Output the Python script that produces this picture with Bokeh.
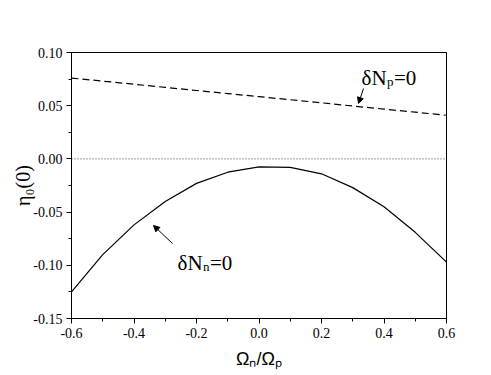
import numpy as np
from bokeh.plotting import figure
from bokeh.models import Label, Arrow, NormalHead, FixedTicker, PrintfTickFormatter, Span
from bokeh.embed import file_html
from bokeh.resources import INLINE

# ---- data ----
omega_ratio = [-0.6, -0.5, -0.4, -0.3, -0.2, -0.1, 0.0, 0.1, 0.2, 0.3, 0.4, 0.5, 0.6]
eta_dNn0 = [-0.125, -0.090, -0.062, -0.040, -0.023, -0.0125, -0.0075, -0.008,
            -0.014, -0.027, -0.045, -0.069, -0.097]
eta_dNp0 = [0.0760, 0.0731, 0.0702, 0.0672, 0.0643, 0.0614, 0.0585, 0.0556,
            0.0527, 0.0497, 0.0468, 0.0439, 0.0410]
x_major = [-0.6, -0.4, -0.2, 0.0, 0.2, 0.4, 0.6]
x_minor = [-0.5, -0.3, -0.1, 0.1, 0.3, 0.5]
y_major = [-0.15, -0.10, -0.05, 0.00, 0.05, 0.10]
y_minor = [-0.125, -0.075, -0.025, 0.025, 0.075]
x_title = "Ωₙ/Ωₚ"
y_title = "η₀(0)"

X0, X1, Y0, Y1 = -0.6, 0.6, -0.15, 0.10
FL, FT, FW, FH = 71, 52, 375, 266  # frame position in picture pixels


def X(px):
    return X0 + (px - FL) / FW * (X1 - X0)


def Y(py):
    return Y1 - (py - FT) / FH * (Y1 - Y0)


p = figure(frame_width=FW, frame_height=FH, x_range=(X0, X1), y_range=(Y0, Y1),
           output_backend="svg", toolbar_location=None,
           min_border_left=FL, min_border_top=FT,
           min_border_right=36, min_border_bottom=52)
p.xgrid.visible = False
p.ygrid.visible = False
p.outline_line_color = "black"
p.outline_line_width = 1
p.background_fill_color = "white"
p.border_fill_color = "white"

for ax, maj, mn, fmt in ((p.xaxis, x_major, x_minor, "%.1f"), (p.yaxis, y_major, y_minor, "%.2f")):
    ax.ticker = FixedTicker(ticks=maj, minor_ticks=mn)
    ax.formatter = PrintfTickFormatter(format=fmt)
    ax.major_label_text_font = "Liberation Serif"
    ax.major_label_text_font_size = "14px"
    ax.major_label_text_color = "black"
    ax.axis_line_color = "black"
    ax.major_tick_line_color = "black"
    ax.minor_tick_line_color = "black"
    ax.major_tick_in = 0
    ax.major_tick_out = 5
    ax.minor_tick_in = 0
    ax.minor_tick_out = 3
    ax.major_label_standoff = 4
    ax.axis_label_text_color = "black"
    ax.axis_label_text_font_style = "normal"

p.xaxis.axis_label = x_title
p.xaxis.axis_label_text_font = "Liberation Sans"
p.xaxis.axis_label_text_font_size = "18px"
p.xaxis.axis_label_standoff = 8
p.yaxis.axis_label = y_title
p.yaxis.axis_label_text_font = "Liberation Serif"
p.yaxis.axis_label_text_font_size = "20px"
p.yaxis.axis_label_standoff = -4

p.add_layout(Span(location=0, dimension="width", line_color="#444444",
                  line_width=1, line_dash="1 2"))
p.line(omega_ratio, eta_dNn0, line_color="black", line_width=1.2)
p.line(omega_ratio, eta_dNp0, line_color="black", line_width=1.2, line_dash="7 4")


def lab(px, py, text, size, font="Liberation Serif"):
    p.add_layout(Label(x=X(px), y=Y(py), text=text, text_font=font,
                       text_font_size=f"{size}px", text_color="black",
                       text_align="left", text_baseline="alphabetic"))


# annotation deltaN_p = 0
lab(361, 77, "δN", 21)
lab(386.5, 81, "p", 13)
lab(393.5, 77, "=0", 21)
# annotation deltaN_n = 0
lab(177, 262, "δN", 21)
lab(202.5, 266, "n", 13)
lab(209.5, 262, "=0", 21)

head = dict(size=6, fill_color="black", line_color="black")
p.add_layout(Arrow(end=NormalHead(**head), x_start=X(363), y_start=Y(88),
                   x_end=X(358), y_end=Y(103), line_color="black", line_width=1))
p.add_layout(Arrow(end=NormalHead(**head), x_start=X(172), y_start=Y(243),
                   x_end=X(153), y_end=Y(225), line_color="black", line_width=1))

open("out.html", "w").write(file_html(p, INLINE))
